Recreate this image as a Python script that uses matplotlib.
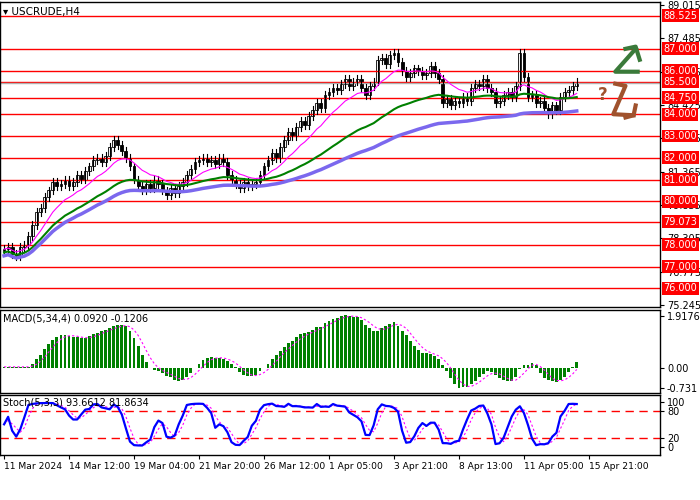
import numpy as np
import pandas as pd
import matplotlib.pyplot as plt
from matplotlib.patches import Rectangle

closes = [77.8, 77.9, 77.6, 77.5, 77.9, 78.0, 78.4, 78.9, 79.5, 79.7, 80.2, 80.5, 80.9, 80.7, 80.8, 81.0,
          80.7, 80.9, 81.2, 81.0, 81.4, 81.6, 81.9, 82.0, 81.8, 82.1, 82.5, 82.8, 82.6, 82.3, 82.0, 81.6,
          81.0, 80.7, 80.5, 80.8, 80.6, 81.0, 80.8, 80.5, 80.3, 80.6, 80.4, 80.7, 80.9, 81.2, 81.5, 81.8,
          81.9, 82.0, 81.8, 81.9, 81.7, 82.0, 81.8, 81.2, 81.0, 80.8, 80.6, 80.9, 80.7, 80.8, 80.9, 81.2,
          81.6, 81.9, 82.2, 82.0, 82.5, 82.8, 83.2, 83.0, 83.4, 83.7, 83.5, 83.9, 84.2, 84.5, 84.3, 84.9,
          85.0, 85.2, 85.1, 85.4, 85.6, 85.3, 85.5, 85.6, 85.2, 84.9, 85.3, 85.5, 86.5, 86.6, 86.3, 86.7,
          86.8, 86.4, 86.0, 85.7, 85.9, 86.1, 86.0, 85.8, 85.9, 86.2, 85.9, 85.6, 84.5, 84.7, 84.4, 84.6,
          84.5, 84.8, 84.6, 85.2, 85.4, 85.3, 85.6, 85.2, 85.0, 84.5, 84.6, 84.9, 85.0, 84.8, 85.3, 86.8,
          85.7, 84.8, 84.9, 84.5, 84.6, 84.3, 84.0, 84.4, 84.2, 84.8, 85.0, 85.1, 85.3, 85.5]
open0 = 77.7
levels = [88.525, 87.0, 86.0, 85.5, 84.75, 84.0, 83.0, 82.0, 81.0, 80.0, 79.073, 78.0, 77.0, 76.0]
grid_ticks = [89.015, 87.485, 85.955, 84.425, 82.895, 81.365, 79.835, 78.305, 76.775, 75.245]
date_labels = ['11 Mar 2024', '14 Mar 12:00', '19 Mar 04:00', '21 Mar 20:00', '26 Mar 12:00',
               '1 Apr 05:00', '3 Apr 21:00', '8 Apr 13:00', '11 Apr 05:00', '15 Apr 21:00']

c = pd.Series(closes)
o = c.shift(1).fillna(open0)
n = len(c)
x = np.arange(n)
wick = 0.18

fig = plt.figure(figsize=(7, 5), dpi=100)
W = 660 / 700
ax = fig.add_axes([0, 1 - 307 / 500, W, 305 / 500])
axm = fig.add_axes([0, 1 - 393 / 500, W, 83 / 500])
axs = fig.add_axes([0, 1 - 455 / 500, W, 60 / 500])
xlim = (-1, 161.5)

# main panel
for lv in levels:
    ax.axhline(lv, color='red', lw=1)
ax.axhline(85.45, color='#b0b0b0', lw=1)
for i in x:
    hi = max(o[i], c[i]) + wick
    lo = min(o[i], c[i]) - wick
    ax.plot([i, i], [lo, hi], color='black', lw=0.8)
    up = c[i] >= o[i]
    ax.add_patch(Rectangle((i - 0.35, min(o[i], c[i])), 0.7, max(abs(c[i] - o[i]), 0.02),
                           facecolor='white' if up else 'black', edgecolor='black', lw=0.6))
ax.plot(x, c.ewm(span=12).mean(), color='#ff00ff', lw=0.8)
ax.plot(x, c.ewm(span=40).mean() - 0.15, color='green', lw=1.5)
ax.plot(x, c.ewm(span=90).mean() - 0.3, color='#7b68ee', lw=2.5)
ax.set_ylim(75.15, 89.15)
ax.set_xlim(*xlim)
ax.yaxis.tick_right()
ax.set_yticks(grid_ticks)
ax.set_yticklabels([f'{t:.3f}' for t in grid_ticks], fontsize=7)
ax.set_xticks([])
for lv in levels:
    ax.text(1.005, lv, f'{lv:.3f}', transform=ax.get_yaxis_transform(), fontsize=7, color='white',
            va='center', ha='left', bbox=dict(boxstyle='square,pad=0.15', fc='red', ec='none'))
ax.text(0.005, 0.985, '▾ USCRUDE,H4', transform=ax.transAxes, fontsize=7.5, va='top')
# arrows
ax.plot([156, 150.5, 155.5], [85.95, 85.95, 87.0], color='#3a7a3a', lw=3)
ax.plot([153, 155.5, 156.5], [87.0, 87.1, 86.5], color='#3a7a3a', lw=3)
ax.plot([150.5, 153, 150, 155], [85.4, 85.3, 84.0, 83.95], color='#a0522d', lw=3)
ax.plot([153, 155, 155.5], [83.85, 83.95, 84.4], color='#a0522d', lw=3)
ax.text(147.5, 84.9, '?', color='#a0522d', fontsize=12, fontweight='bold', ha='center', va='center')

# MACD
macd = c.rolling(5, min_periods=1).mean() - c.rolling(34, min_periods=1).mean()
macd = macd * 0.75 + 0.05
sig = macd.rolling(4, min_periods=1).mean()
axm.bar(x, macd, width=0.7, color='green')
axm.plot(x, sig, color='#ff00ff', lw=0.8, ls=(0, (2, 2)))
axm.set_ylim(-0.905, 2.13)
axm.set_xlim(*xlim)
axm.yaxis.tick_right()
axm.set_yticks([1.9176, 0.0, -0.731])
axm.set_yticklabels(['1.9176', '0.00', '-0.731'], fontsize=7)
axm.set_xticks([])
axm.text(0.005, 0.96, 'MACD(5,34,4) 0.0920 -0.1206', transform=axm.transAxes, fontsize=7, va='top')

# Stochastic
lo5 = (c - 0.05).rolling(5, min_periods=1).min()
hi5 = (c + 0.05).rolling(5, min_periods=1).max()
k = 100 * (c - lo5).rolling(3, min_periods=1).sum() / (hi5 - lo5).rolling(3, min_periods=1).sum()
d = k.rolling(3, min_periods=1).mean()
axs.axhline(80, color='red', lw=1, ls=(0, (6, 4)))
axs.axhline(20, color='red', lw=1, ls=(0, (6, 4)))
axs.plot(x, d, color='#ff00ff', lw=0.8, ls=(0, (2, 2)))
axs.plot(x, k, color='blue', lw=1.6)
axs.set_ylim(-18, 115)
axs.set_xlim(*xlim)
axs.yaxis.tick_right()
axs.set_yticks([100, 80, 20, 0])
axs.set_yticklabels(['100', '80', '20', '0'], fontsize=7)
axs.set_xticks(np.arange(len(date_labels)) * 16)
axs.set_xticklabels(date_labels, fontsize=6.6, ha='left')
axs.tick_params(axis='x', length=3, pad=2)
axs.text(0.005, 0.96, 'Stoch(5,3,3) 93.6612 81.8634', transform=axs.transAxes, fontsize=7, va='top')

for a in (ax, axm, axs):
    for s in a.spines.values():
        s.set_linewidth(1)
    a.tick_params(axis='y', length=3, pad=2)

fig.savefig('out.png', dpi=100)
